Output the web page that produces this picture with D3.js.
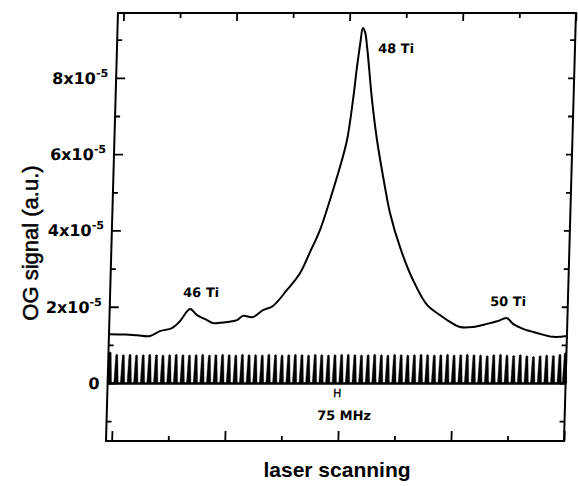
<!DOCTYPE html>
<html>
<head>
<meta charset="utf-8">
<script src="https://cdn.jsdelivr.net/npm/d3@7"></script>
<style>
    body { margin: 0; background: #fff; }
    svg { display: block; }
</style>
</head>
<body>
<div id="container"></div>
<script>

// OG signal (units of 1e-5) vs laser scanning position
var scanX = [-0.05, 0.10, 0.20, 0.313, 0.40, 0.505, 0.574, 0.66, 0.724, 0.813,
    0.867, 0.93, 0.991, 1.078, 1.131, 1.219, 1.306, 1.393, 1.513, 1.624,
    1.707, 1.79, 1.871, 1.951, 2.007, 2.05, 2.077, 2.10, 2.12, 2.14,
    2.165, 2.218, 2.272, 2.354, 2.405, 2.502, 2.625, 2.755, 2.873, 2.963,
    3.052, 3.167, 3.29, 3.378, 3.466, 3.52, 3.61, 3.735, 3.877, 4.0];
var ogSignal = [1.28, 1.27, 1.25, 1.23, 1.36, 1.44, 1.62, 1.94, 1.78, 1.65,
    1.57, 1.58, 1.60, 1.65, 1.76, 1.73, 1.91, 2.02, 2.44, 2.88,
    3.43, 4.01, 4.80, 5.66, 6.37, 7.42, 8.28, 8.90, 9.31, 9.20,
    8.73, 7.42, 6.37, 5.14, 4.46, 3.56, 2.70, 2.05, 1.78, 1.60,
    1.47, 1.47, 1.55, 1.62, 1.70, 1.55, 1.42, 1.31, 1.21, 1.23];

// 75 MHz etalon fringes
var fringePos = [-0.035, 0.024, 0.082, 0.141, 0.199, 0.258, 0.316, 0.375, 0.433, 0.492,
    0.550, 0.609, 0.667, 0.726, 0.784, 0.843, 0.901, 0.960, 1.018, 1.077,
    1.135, 1.194, 1.252, 1.311, 1.369, 1.428, 1.486, 1.545, 1.603, 1.662,
    1.720, 1.779, 1.837, 1.896, 1.954, 2.013, 2.071, 2.130, 2.188, 2.247,
    2.305, 2.364, 2.422, 2.481, 2.539, 2.598, 2.656, 2.715, 2.773, 2.832,
    2.890, 2.949, 3.007, 3.066, 3.124, 3.183, 3.241, 3.300, 3.358, 3.417,
    3.475, 3.534, 3.592, 3.651, 3.709, 3.768, 3.826, 3.885, 3.943, 3.990];
var fringeHeight = [0.82, 0.76, 0.75, 0.76, 0.74, 0.75, 0.76, 0.75, 0.74, 0.75,
    0.76, 0.75, 0.74, 0.75, 0.76, 0.74, 0.75, 0.76, 0.75, 0.74,
    0.76, 0.75, 0.75, 0.74, 0.76, 0.75, 0.74, 0.75, 0.76, 0.75,
    0.74, 0.76, 0.75, 0.74, 0.75, 0.76, 0.76, 0.75, 0.74, 0.75,
    0.76, 0.75, 0.74, 0.76, 0.75, 0.74, 0.75, 0.76, 0.75, 0.74,
    0.75, 0.76, 0.74, 0.75, 0.76, 0.75, 0.74, 0.72, 0.75, 0.76,
    0.74, 0.73, 0.75, 0.72, 0.70, 0.72, 0.74, 0.73, 0.76, 0.80];

var xMajor = [0, 1, 2, 3, 4];
var xMinor = [0.5, 1.5, 2.5, 3.5];
var yMajor = [0, 2, 4, 6, 8];
var yMinor = [-1, 1, 3, 5, 7, 9];
var yLabels = ["0", "2x10", "4x10", "6x10", "8x10"];

var labelText = ["46 Ti", "48 Ti", "50 Ti"];
var labelX = [0.596, 2.259, 3.312];
var labelY = [2.25, 8.65, 2.02];

var width = 578, height = 486;
var box = { left: 106, right: 564, top: 13, bottom: 441 };

var svg = d3.select("#container").append("svg")
    .attr("width", width)
    .attr("height", height)
    .style("font-family", "'DejaVu Sans', sans-serif");

svg.append("rect").attr("width", width).attr("height", height).attr("fill", "#fff");

var x = d3.scaleLinear().domain([-0.05, 4.0]).range([box.left, box.right]);
var y = d3.scaleLinear().domain([-1.52, 9.7]).range([box.bottom, box.top]);

// the scanned original is slightly sheared
var g = svg.append("g")
    .attr("transform", "translate(0," + box.bottom + ") skewX(-1.6) translate(0," + (-box.bottom) + ")");

// fringes
var baseY = y(0);
fringePos.forEach(function (p, i)
{
    var cx = x(p);
    var peakY = y(fringeHeight[i]);
    g.append("path")
        .attr("d", d3.line()([[cx - 2.2, baseY], [cx - 1.0, peakY + 1], [cx, peakY], [cx + 1.0, peakY + 1], [cx + 2.2, baseY]]) + "Z")
        .attr("fill", "#000")
        .attr("stroke", "#000")
        .attr("stroke-width", 0.4);
});
g.append("line")
    .attr("x1", x(fringePos[0]) - 2).attr("x2", x(fringePos[fringePos.length - 1]) + 2)
    .attr("y1", baseY + 0.5).attr("y2", baseY + 0.5)
    .attr("stroke", "#000").attr("stroke-width", 2.5);

// OG curve
var pts = scanX.map(function (d, k) { return [d, ogSignal[k]]; });
g.append("path")
    .datum(pts)
    .attr("fill", "none")
    .attr("stroke", "#000")
    .attr("stroke-width", 2)
    .attr("stroke-linejoin", "round")
    .attr("d", d3.line()
        .x(function (d) { return x(d[0]); })
        .y(function (d) { return y(d[1]); })
        .curve(d3.curveCatmullRom.alpha(0.5)));

// axes with inward ticks
function addAxis(axis, translate, values, size)
{
    var a = g.append("g")
        .attr("transform", translate)
        .call(axis.tickValues(values).tickSize(size).tickSizeOuter(0).tickFormat(""));
    a.select(".domain").remove();
    a.selectAll("line").attr("stroke", "#000").attr("stroke-width", 1.8);
}
addAxis(d3.axisBottom(x), "translate(0," + box.bottom + ")", xMajor, -10);
addAxis(d3.axisBottom(x), "translate(0," + box.bottom + ")", xMinor, -5);
addAxis(d3.axisTop(x), "translate(0," + box.top + ")", xMajor, -8);
addAxis(d3.axisTop(x), "translate(0," + box.top + ")", xMinor, -5);
addAxis(d3.axisLeft(y), "translate(" + box.left + ",0)", yMajor, -9);
addAxis(d3.axisLeft(y), "translate(" + box.left + ",0)", yMinor, -5);
addAxis(d3.axisRight(y), "translate(" + box.right + ",0)", yMajor, -6);
addAxis(d3.axisRight(y), "translate(" + box.right + ",0)", yMinor, -5);

g.append("rect")
    .attr("x", box.left).attr("y", box.top)
    .attr("width", box.right - box.left).attr("height", box.bottom - box.top)
    .attr("fill", "none").attr("stroke", "#000").attr("stroke-width", 2);

// y tick labels
yMajor.forEach(function (v, k)
{
    var t = g.append("text")
        .attr("x", box.left - 8)
        .attr("y", y(v) + 6)
        .attr("text-anchor", "end")
        .attr("font-size", 16)
        .attr("font-weight", "bold");
    t.append("tspan").text(yLabels[k]);
    if (v !== 0)
    {
        t.append("tspan").attr("dy", -7).attr("font-size", 11).text("-5");
    }
});

// peak labels
labelText.forEach(function (s, k)
{
    g.append("text")
        .attr("x", x(labelX[k]))
        .attr("y", y(labelY[k]))
        .attr("font-size", 13)
        .attr("font-weight", "bold")
        .text(s);
});

g.append("text")
    .attr("x", x(1.947)).attr("y", y(-0.37))
    .attr("font-size", 11)
    .attr("fill", "#000")
    .attr("stroke", "#000")
    .attr("stroke-width", 0.3)
    .text("H");
g.append("text")
    .attr("x", x(1.81)).attr("y", y(-0.97))
    .attr("font-size", 13)
    .attr("font-weight", "bold")
    .text("75 MHz");

// axis titles
svg.append("text")
    .attr("transform", "translate(38,243) rotate(-90)")
    .attr("text-anchor", "middle")
    .attr("font-family", "'Liberation Sans', Arial, sans-serif")
    .attr("font-size", 22)
    .attr("stroke", "#000")
    .attr("stroke-width", 0.5)
    .text("OG signal (a.u.)");

svg.append("text")
    .attr("x", 337).attr("y", 477)
    .attr("text-anchor", "middle")
    .attr("font-family", "'Liberation Sans', Arial, sans-serif")
    .attr("font-size", 21)
    .attr("font-weight", "bold")
    .text("laser scanning");

</script>
</body>
</html>
